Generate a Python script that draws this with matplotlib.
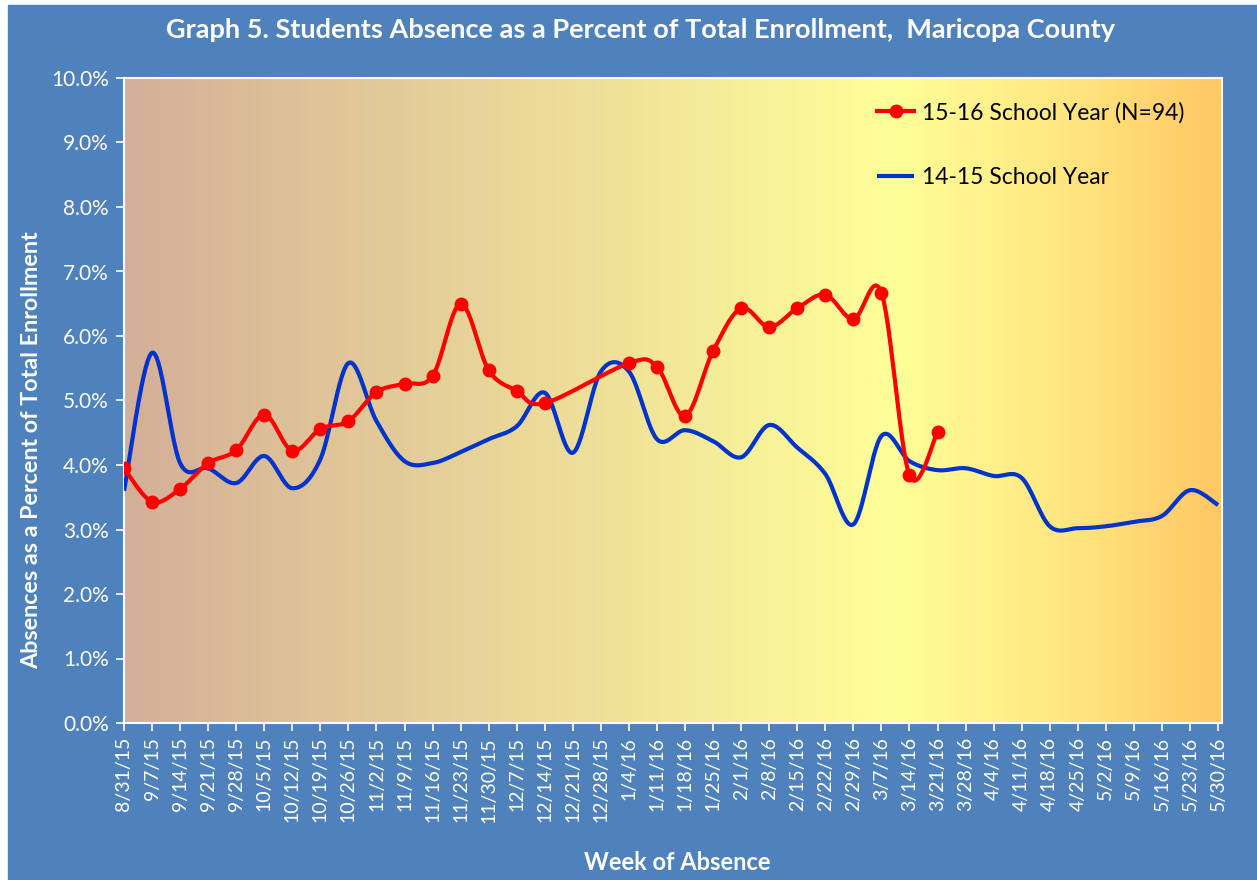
import numpy as np
import matplotlib.pyplot as plt
from matplotlib.patches import Rectangle
from matplotlib.colors import LinearSegmentedColormap

weeks = ['8/31/15', '9/7/15', '9/14/15', '9/21/15', '9/28/15', '10/5/15', '10/12/15',
         '10/19/15', '10/26/15', '11/2/15', '11/9/15', '11/16/15', '11/23/15', '11/30/15',
         '12/7/15', '12/14/15', '12/21/15', '12/28/15', '1/4/16', '1/11/16', '1/18/16',
         '1/25/16', '2/1/16', '2/8/16', '2/15/16', '2/22/16', '2/29/16', '3/7/16',
         '3/14/16', '3/21/16', '3/28/16', '4/4/16', '4/11/16', '4/18/16', '4/25/16',
         '5/2/16', '5/9/16', '5/16/16', '5/23/16', '5/30/16']

# 15-16 school year, % of enrollment (None = no data that week)
y1516 = [3.95, 3.43, 3.63, 4.03, 4.23, 4.78, 4.22, 4.56, 4.68, 5.13, 5.26, 5.38,
         6.50, 5.47, 5.15, 4.96, None, None, 5.58, 5.52, 4.76, 5.77, 6.43, 6.14,
         6.43, 6.64, 6.26, 6.67, 3.84, 4.51]

# 14-15 school year
y1415 = [3.60, 5.74, 4.03, 3.95, 3.72, 4.14, 3.64, 4.09, 5.58, 4.68, 4.06, 4.03,
         4.20, 4.40, 4.60, 5.12, 4.19, 5.45, 5.45, 4.40, 4.54, 4.37, 4.12, 4.62,
         4.27, 3.86, 3.08, 4.45, 4.06, 3.92, 3.95, 3.83, 3.80, 3.05, 3.02, 3.05,
         3.12, 3.21, 3.61, 3.38]

BLUE_BG = '#4F81BD'
FONT = 'Lato'
sx, sy = 28.07, 64.5  # px per category / per percent, used so smoothing works in screen space


def smooth(xs, ys, n=30):
    # excel-style smoothed line: bezier segments with catmull-rom control points
    P = np.column_stack([np.array(xs) * sx, np.array(ys) * sy])
    out = [P[0]]
    for i in range(len(P) - 1):
        p0 = P[i - 1] if i > 0 else P[i]
        p1, p2 = P[i], P[i + 1]
        p3 = P[i + 2] if i + 2 < len(P) else P[i + 1]
        c1 = p1 + (p2 - p0) / 6
        c2 = p2 - (p3 - p1) / 6
        t = np.linspace(0, 1, n)[1:, None]
        seg = (1 - t)**3 * p1 + 3 * (1 - t)**2 * t * c1 + 3 * (1 - t) * t**2 * c2 + t**3 * p2
        out.extend(seg)
    out = np.array(out)
    return out[:, 0] / sx, out[:, 1] / sy


fig = plt.figure(figsize=(12.57, 8.8), dpi=100, facecolor='white')
fig.patches.append(Rectangle((8 / 1257, 0), 1 - 8 / 1257, 1 - 5 / 880,
                             transform=fig.transFigure, color=BLUE_BG, zorder=-10))

ax = fig.add_axes([124 / 1257, 157 / 880, 1098 / 1257, 645 / 880])
ax.set_facecolor('none')

# gradient plot area
cmap = LinearSegmentedColormap.from_list('bg', [(0.0, '#D4AF98'), (0.70, '#FFFF99'),
                                                (0.86, '#FFE680'), (1.0, '#FFC864')])
grad = np.linspace(0, 1, 512)[None, :]
ax.imshow(grad, cmap=cmap, aspect='auto', extent=[0, 1, 0, 1],
          transform=ax.transAxes, zorder=0)

x = np.arange(len(weeks))

# 14-15
bx, by = smooth(x, y1415)
ax.plot(bx, by, color='#0033CC', lw=3, solid_capstyle='butt', zorder=3,
        label='14-15 School Year')

# 15-16
xr = [i for i, v in enumerate(y1516) if v is not None]
yr = [v for v in y1516 if v is not None]
rx, ry = smooth(xr, yr)
ax.plot(rx, ry, color='#FF0000', lw=3, zorder=4)
ax.plot(xr, yr, 'o', color='#FF0000', ms=9, zorder=5)
ax.plot([], [], '-o', color='#FF0000', lw=3, ms=9, label='15-16 School Year (N=94)')

ax.set_xlim(0, 39.14)
ax.set_ylim(0, 10)
ax.set_xticks(x)
ax.set_xticklabels(weeks, rotation=90, fontsize=14, color='white', family=FONT)
ax.set_yticks(np.arange(0, 11))
ax.set_yticklabels(['%.1f%%' % v for v in range(11)], fontsize=15, color='white', family=FONT)
ax.tick_params(axis='both', colors='white', length=6, width=1.2, direction='out')
ax.tick_params(axis='x', pad=4)
ax.tick_params(axis='y', pad=5)
for s in ax.spines.values():
    s.set_color('white')
    s.set_linewidth(1.5)

ax.set_ylabel('Absences as a Percent of Total Enrollment', fontsize=16.8, color='white',
              fontweight='bold', family=FONT)
ax.yaxis.set_label_coords(-0.075, 0.423)
fig.text(677 / 1257, 1 - 862 / 880, 'Week of Absence', ha='center', va='center',
         fontsize=17, color='white', fontweight='bold', family=FONT)
fig.text(641 / 1257, 1 - 30 / 880,
         'Graph 5. Students Absence as a Percent of Total Enrollment,  Maricopa County',
         ha='center', va='center', fontsize=19.5, color='white', fontweight='bold', family=FONT)

h, l = ax.get_legend_handles_labels()
ax.legend(h[::-1], l[::-1], loc='upper left', bbox_to_anchor=(0.686, 0.963), frameon=False,
          prop={'family': FONT, 'size': 16.5}, labelspacing=1.9, handlelength=1.6,
          handletextpad=0.35, borderpad=0, borderaxespad=0)

fig.savefig('out.png', dpi=100, facecolor=fig.get_facecolor())
